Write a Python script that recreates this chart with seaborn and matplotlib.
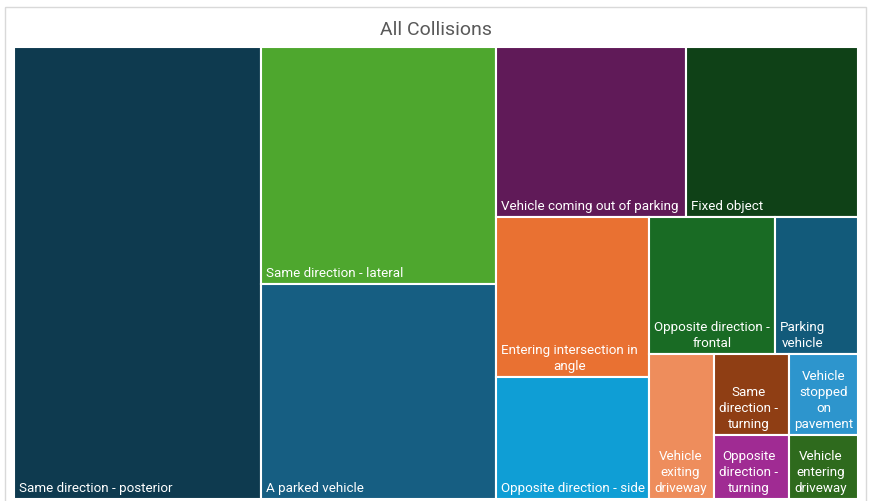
import matplotlib
matplotlib.use("Agg")
import matplotlib.pyplot as plt
import seaborn as sns
from matplotlib.patches import Rectangle

# ---- data ----
categories = [
    "Same direction - posterior",
    "Same direction - lateral",
    "A parked vehicle",
    "Vehicle coming out of parking",
    "Fixed object",
    "Entering intersection in angle",
    "Opposite direction - side",
    "Opposite direction - frontal",
    "Parking vehicle",
    "Vehicle exiting driveway",
    "Same direction - turning",
    "Vehicle stopped on pavement",
    "Opposite direction - turning",
    "Vehicle entering driveway",
]
values = [1100, 548, 497, 318, 288, 241, 184, 170, 112, 93, 60, 55, 47, 43]
colors = [
    "#0E3A4F", "#4EA72E", "#165E82", "#601A58", "#0F4117", "#E97132",
    "#0F9ED5", "#196B24", "#125A7A", "#EE8D5C", "#8F3E14", "#2D95CD",
    "#A02B93", "#2E6A1D",
]
title = "All Collisions"
# number of tiles in each successive strip of the layout
strips = [1, 2, 2, 2, 2, 1, 2, 1, 1]

sns.set_theme(style="white")
plt.rcParams["font.family"] = ["Roboto", "DejaVu Sans"]

W, H = 869, 502
fig = plt.figure(figsize=(W / 100, H / 100), dpi=100)
ax = fig.add_axes([0, 0, 1, 1])
ax.set_xlim(0, W)
ax.set_ylim(H, 0)
ax.axis("off")

# chart frame
ax.add_patch(Rectangle((5, 8), 861, 500, fill=False, edgecolor="#D9D9D9", lw=1.0))
ax.text(436, 30, title, ha="center", va="center", fontsize=14, color="#595959")


def layout(vals, x, y, w, h, strips):
    rects = []
    i = 0
    for n in strips:
        rem = sum(vals[i:])
        grp = vals[i:i + n]
        s = sum(grp)
        if w >= h:
            cw = w * s / rem
            yy = y
            for v in grp:
                hh = h * v / s
                rects.append((x, yy, cw, hh))
                yy += hh
            x += cw
            w -= cw
        else:
            rh = h * s / rem
            xx = x
            for v in grp:
                ww = w * v / s
                rects.append((xx, y, ww, rh))
                xx += ww
            y += rh
            h -= rh
        i += n
    return rects


rects = layout(values, 14, 48, 844, 452, strips)

fig.canvas.draw()
renderer = fig.canvas.get_renderer()
FS = 9.6


def text_width(s):
    t = ax.text(0, 0, s, fontsize=FS)
    bb = t.get_window_extent(renderer=renderer)
    t.remove()
    return bb.width


def wrap(label, maxw):
    words = label.split(" ")
    merged = []
    for wd in words:
        if wd == "-" and merged:
            merged[-1] = merged[-1] + " -"
        else:
            merged.append(wd)
    lines = []
    cur = ""
    for wd in merged:
        cand = wd if not cur else cur + " " + wd
        if text_width(cand) <= maxw or not cur:
            cur = cand
        else:
            lines.append(cur)
            cur = wd
    lines.append(cur)
    return lines


for (x, y, w, h), lab, col in zip(rects, categories, colors):
    ax.add_patch(Rectangle((x, y), w, h, facecolor=col, edgecolor="white", lw=1.5))
    lines = wrap(lab, w - 6)
    txt = "\n".join(lines)
    blockw = max(text_width(l) for l in lines)
    if len(lines) > 1:
        tx = min(x + 5 + blockw / 2, x + w / 2)
        ha = "center"
    else:
        tx = x + 5
        ha = "left"
    ax.text(tx, y + h - 5, txt, ha=ha, va="bottom", ma="center",
            fontsize=FS, color="white", linespacing=1.3)

fig.savefig("out.png", dpi=100)
